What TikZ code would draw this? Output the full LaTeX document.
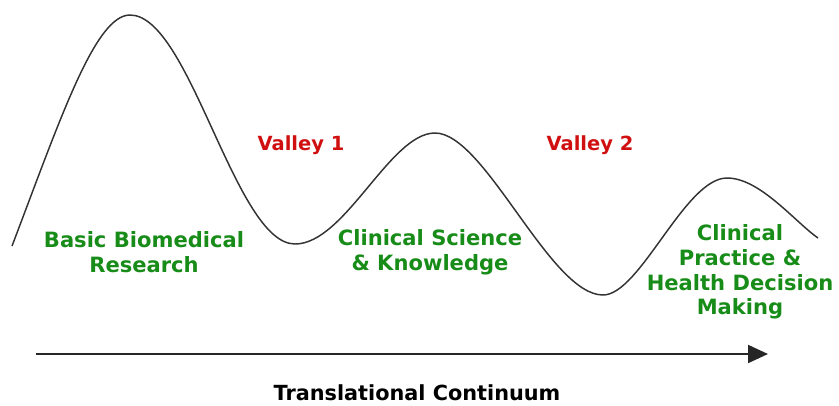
\documentclass[tikz,border=0pt]{standalone}
\usepackage{fontspec}
\setsansfont{DejaVu Sans}
\usetikzlibrary{arrows.meta}
\definecolor{stagegreen}{RGB}{24,140,24}
\definecolor{valleyred}{RGB}{208,16,16}
\begin{document}
\begin{tikzpicture}[x=0.75pt, y=-0.75pt]
      \tikzset{every node/.style={align=center, inner sep=0pt, font=\sffamily\bfseries},
        stage/.style={text=stagegreen, font=\sffamily\bfseries\fontsize{15.8}{18.5}\selectfont},
        valley/.style={text=valleyred, font=\sffamily\bfseries\fontsize{14.6}{17}\selectfont}}
      \useasboundingbox (0,0) rectangle (839,405);
      % the curve, peaks and valleys
      \coordinate (start) at (12,246);
      \coordinate (peakA) at (130,15);
      \coordinate (lowA) at (295,244);
      \coordinate (peakB) at (435,133);
      \coordinate (lowB) at (603,295);
      \coordinate (peakC) at (727,178);
      \coordinate (stop) at (818,238);
      \draw[line width=1.1pt, black!80] (start)
        .. controls (60,120) and (95,15) .. (peakA)
        .. controls (190,15) and (235,244) .. (lowA)
        .. controls (345,244) and (390,133) .. (peakB)
        .. controls (485,133) and (550,295) .. (lowB)
        .. controls (640,295) and (685,178) .. (peakC)
        .. controls (760,178) and (795,222) .. (stop);
      \node[stage] (basic) at (144,252) {Basic Biomedical\\Research};
      \node[stage] (clinsci) at (430,252) {Clinical Science\\\& Knowledge};
      \node[stage] (clinpract) at (740,272) {Clinical\\Practice \&\\Health Decision\\Making};
      \node[valley] (valleyA) at (301,145) {Valley 1};
      \node[valley] (valleyB) at (590,145) {Valley 2};
      \coordinate (arrowstart) at (36,354);
      \coordinate (arrowend) at (768,354);
      \draw[line width=1.5pt, black!85, -{Triangle[length=15pt, width=13.5pt]}] (arrowstart) -- (arrowend);
      \node[font=\sffamily\bfseries\fontsize{15.6}{18}\selectfont] (continuum) at (417,393) {Translational Continuum};
    \end{tikzpicture}
\end{document}
